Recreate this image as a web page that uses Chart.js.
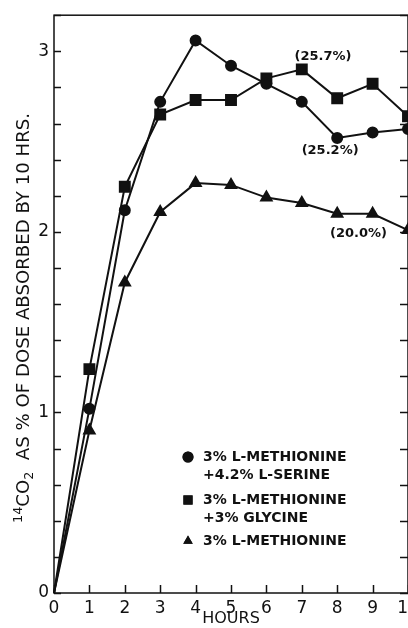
<!DOCTYPE html>
<html>
<head>
<meta charset="utf-8">
<script src="https://cdn.jsdelivr.net/npm/chart.js@4.4.1/dist/chart.umd.min.js"></script>
<style>
  html, body { margin: 0; padding: 0; background: #fff; overflow: hidden; }
  #wrap { position: relative; width: 440px; height: 628px; }
</style>
</head>
<body>
<div id="wrap"><canvas id="chart" width="440" height="628"></canvas></div>
<script>
// Data
const hours = [0, 1, 2, 3, 4, 5, 6, 7, 8, 9, 10];
const serineSeries = [0, 1.02, 2.12, 2.72, 3.06, 2.92, 2.82, 2.72, 2.52, 2.55, 2.57];
const glycineSeries = [0, 1.24, 2.25, 2.65, 2.73, 2.73, 2.85, 2.90, 2.74, 2.82, 2.64];
const methionineSeries = [0, 0.90, 1.72, 2.11, 2.27, 2.26, 2.19, 2.16, 2.10, 2.10, 2.01];

const seriesLabels = [
    ['3% L-METHIONINE', '+4.2% L-SERINE'],
    ['3% L-METHIONINE', '+3% GLYCINE'],
    ['3% L-METHIONINE']
];
const endNotes = ['(25.7%)', '(25.2%)', '(20.0%)'];
const yTickLabels = ['0', '1', '2', '3'];
const xTitle = 'HOURS';

const INK = '#111';
const FONT = '"DejaVu Sans", sans-serif';

function makeDataset(label, values, style, radius) {
    return {
        label: label,
        data: hours.map((h, i) => ({ x: h, y: values[i] })),
        borderColor: INK,
        borderWidth: 2,
        backgroundColor: INK,
        pointBackgroundColor: INK,
        pointBorderColor: INK,
        pointStyle: style,
        pointRadius: hours.map(h => h === 0 ? 0 : radius),
        tension: 0,
        clip: false
    };
}

// Frame, inward ticks, notes, legend and the y title
const decorations = {
    id: 'decorations',
    afterDraw(chart) {
        const ctx = chart.ctx;
        const area = chart.chartArea;
        const xs = chart.scales.x;
        const ys = chart.scales.y;
        ctx.save();
        ctx.strokeStyle = INK;
        ctx.lineWidth = 1.5;
        ctx.strokeRect(area.left, area.top, area.right - area.left, area.bottom - area.top);

        // inward ticks
        ctx.beginPath();
        ys.ticks.forEach(t => {
            const py = Math.round(ys.getPixelForValue(t.value)) + 0.5;
            ctx.moveTo(area.left, py); ctx.lineTo(area.left + 7, py);
            ctx.moveTo(area.right, py); ctx.lineTo(area.right - 8, py);
        });
        xs.ticks.forEach(t => {
            const px = Math.round(xs.getPixelForValue(t.value)) + 0.5;
            ctx.moveTo(px, area.bottom); ctx.lineTo(px, area.bottom - 8);
        });
        ctx.stroke();

        // end-of-run percentages
        ctx.fillStyle = INK;
        ctx.font = 'bold 13px ' + FONT;
        ctx.textAlign = 'center';
        ctx.textBaseline = 'middle';
        const notePos = [[7.6, 2.97], [7.8, 2.45], [8.6, 1.99]];
        endNotes.forEach((txt, i) => {
            ctx.fillText(txt, xs.getPixelForValue(notePos[i][0]), ys.getPixelForValue(notePos[i][1]));
        });

        // legend
        const lx = 188, tx = 203;
        const rows = [457, 500, 541];
        ctx.textAlign = 'left';
        ctx.font = 'bold 14px ' + FONT;
        chart.data.datasets.forEach((ds, i) => {
            Chart.helpers.drawPoint(ctx, { pointStyle: ds.pointStyle, radius: ds.pointStyle === 'rect' ? 6.5 : 5.5, rotation: 0 }, lx, rows[i]);
            ctx.fill();
            seriesLabels[i].forEach((line, j) => {
                ctx.fillText(line, tx, rows[i] + j * 18);
            });
        });

        // rotated y title with superscript 14 and subscript 2
        ctx.translate(25, 318);
        ctx.rotate(-Math.PI / 2);
        const big = '17px ' + FONT, small = '12px ' + FONT;
        const parts = [
            { t: '14', f: small, dy: -6 },
            { t: 'CO', f: big, dy: 0 },
            { t: '2', f: small, dy: 5 },
            { t: '  AS % OF DOSE ABSORBED BY 10 HRS.', f: big, dy: 0 }
        ];
        let total = 0;
        parts.forEach(p => { ctx.font = p.f; p.w = ctx.measureText(p.t).width; total += p.w; });
        const target = 410;
        ctx.scale(target / total, 1);
        let cx = -total / 2;
        ctx.textBaseline = 'middle';
        parts.forEach(p => {
            ctx.font = p.f;
            ctx.fillText(p.t, cx, p.dy);
            cx += p.w;
        });
        ctx.restore();
    }
};

new Chart(document.getElementById('chart'), {
    type: 'line',
    data: {
        datasets: [
            makeDataset(seriesLabels[0].join(' '), serineSeries, 'circle', 5),
            makeDataset(seriesLabels[1].join(' '), glycineSeries, 'rect', 7),
            makeDataset(seriesLabels[2].join(' '), methionineSeries, 'triangle', 6)
        ]
    },
    options: {
        responsive: false,
        animation: false,
        layout: { padding: { left: 0, top: 14, right: 32, bottom: 0 } },
        plugins: {
            legend: { display: false },
            tooltip: { enabled: false }
        },
        scales: {
            x: {
                type: 'linear',
                min: 0,
                max: 10,
                afterFit: s => { s.height = 35; },
                grid: { display: false, drawTicks: false },
                border: { display: false },
                ticks: {
                    stepSize: 1,
                    padding: 5,
                    color: INK,
                    font: { size: 17, family: FONT },
                    callback: v => String(v)
                },
                title: { display: true, text: xTitle, color: INK, padding: { top: -1, bottom: 0 }, font: { size: 16, family: FONT } }
            },
            y: {
                type: 'linear',
                min: 0,
                max: 3.2,
                afterFit: s => { s.width = 54; },
                grid: { display: false, drawTicks: false },
                border: { display: false },
                ticks: {
                    stepSize: 0.2,
                    padding: 5,
                    color: INK,
                    font: { size: 17, family: FONT },
                    callback: v => {
                        const r = Math.round(v);
                        return Math.abs(v - r) < 1e-6 ? yTickLabels[r] : '';
                    }
                }
            }
        }
    },
    plugins: [decorations]
});
</script>
</body>
</html>
